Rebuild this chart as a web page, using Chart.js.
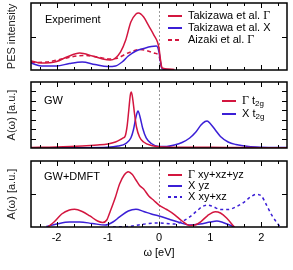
<!DOCTYPE html>
<html>
<head>
<meta charset="utf-8">
<script src="https://cdn.jsdelivr.net/npm/chart.js@4.4.0/dist/chart.umd.min.js"></script>
<style>
  html, body { margin: 0; padding: 0; background: #fff; }
  #wrap { position: relative; width: 293px; height: 270px; }
  .panel { position: absolute; left: 0; width: 293px; }
</style>
</head>
<body>
<div id="wrap">
  <div class="panel" style="top:0;height:74px"><canvas id="c1"></canvas></div>
  <div class="panel" style="top:76px;height:76px"><canvas id="c2"></canvas></div>
  <div class="panel" style="top:152px;height:118px"><canvas id="c3"></canvas></div>
</div>
<script>
// ω [eV] axis
const xTickLabels = [-2, -1, 0, 1, 2]

// Experiment: PES intensity
const takGammaW = [-2.5, -2.3, -2.0, -1.8, -1.55, -1.3, -1.1, -0.95, -0.85, -0.75, -0.65, -0.55, -0.45, -0.4, -0.3, -0.2, -0.1, -0.03, 0.0, 0.03, 0.06, 0.15, 0.3]
const takGammaA = [0.134, 0.104, 0.127, 0.194, 0.254, 0.209, 0.164, 0.149, 0.179, 0.269, 0.448, 0.716, 0.836, 0.851, 0.791, 0.657, 0.522, 0.418, 0.328, 0.149, 0.03, 0.015, 0.007]
const takXW = [-2.5, -2.3, -2.0, -1.75, -1.5, -1.25, -1.0, -0.85, -0.72, -0.6, -0.45, -0.3, -0.15, -0.05, 0.0, 0.03, 0.06, 0.15, 0.3]
const takXA = [0.104, 0.06, 0.06, 0.097, 0.119, 0.082, 0.052, 0.06, 0.119, 0.209, 0.284, 0.321, 0.351, 0.358, 0.269, 0.119, 0.022, 0.007, 0.003]
const aizGammaW = [-2.5, -2.2, -1.9, -1.6, -1.45, -1.2, -0.95, -0.8, -0.65, -0.5, -0.4, -0.25, -0.1, 0.0, 0.03, 0.06, 0.15]
const aizGammaA = [0.112, 0.119, 0.164, 0.209, 0.216, 0.194, 0.164, 0.179, 0.239, 0.284, 0.306, 0.291, 0.254, 0.209, 0.104, 0.022, 0.007]

// GW
const gwGammaW = [-2.5, -2.0, -1.5, -1.2, -1.0, -0.85, -0.75, -0.7, -0.66, -0.62, -0.59, -0.56, -0.54, -0.51, -0.48, -0.44, -0.38, -0.3, -0.15, 0.1, 0.5, 1.0, 1.5, 2.0, 2.5]
const gwGammaA = [0.008, 0.015, 0.03, 0.045, 0.061, 0.091, 0.129, 0.152, 0.182, 0.348, 0.576, 0.803, 0.848, 0.727, 0.53, 0.318, 0.167, 0.091, 0.038, 0.015, 0.011, 0.011, 0.008, 0.005, 0.003]
const gwXW = [-2.5, -1.5, -1.0, -0.8, -0.65, -0.55, -0.5, -0.45, -0.41, -0.37, -0.32, -0.25, -0.15, 0.0, 0.15, 0.3, 0.45, 0.6, 0.72, 0.82, 0.9, 0.94, 1.0, 1.1, 1.2, 1.35, 1.5, 1.75, 2.0, 2.5]
const gwXA = [0.003, 0.005, 0.011, 0.03, 0.068, 0.152, 0.273, 0.47, 0.561, 0.47, 0.303, 0.152, 0.068, 0.023, 0.023, 0.045, 0.083, 0.152, 0.242, 0.348, 0.402, 0.409, 0.371, 0.273, 0.174, 0.091, 0.053, 0.023, 0.012, 0.006]

// GW+DMFT
const dmftGammaW = [-2.17, -2.05, -1.9, -1.75, -1.65, -1.5, -1.35, -1.2, -1.1, -1.02, -0.95, -0.85, -0.77, -0.68, -0.6, -0.52, -0.45, -0.38, -0.3, -0.2, -0.1, 0.0, 0.15, 0.3, 0.45, 0.6, 0.7, 0.82, 0.95, 1.1, 1.2, 1.32, 1.47]
const dmftGammaA = [0, 0.076, 0.197, 0.258, 0.268, 0.235, 0.167, 0.091, 0.068, 0.106, 0.242, 0.455, 0.652, 0.788, 0.838, 0.795, 0.712, 0.629, 0.576, 0.47, 0.402, 0.333, 0.265, 0.189, 0.091, 0.023, 0.03, 0.083, 0.174, 0.232, 0.212, 0.136, 0]
const dmftXyzW = [-2.2, -2.0, -1.75, -1.55, -1.3, -1.05, -0.9, -0.77, -0.6, -0.45, -0.3, -0.15, 0.0, 0.2, 0.4, 0.6, 0.8, 1.0, 1.13, 1.25, 1.38, 1.47]
const dmftXyzA = [0.008, 0.045, 0.076, 0.076, 0.053, 0.03, 0.076, 0.152, 0.242, 0.268, 0.235, 0.197, 0.167, 0.117, 0.068, 0.03, 0.045, 0.076, 0.091, 0.068, 0.03, 0.003]
const dmftXxyW = [-0.9, -0.6, -0.4, -0.2, 0.0, 0.15, 0.3, 0.45, 0.6, 0.75, 0.85, 0.95, 1.05, 1.2, 1.35, 1.5, 1.65, 1.8, 1.9, 2.0, 2.1, 2.2, 2.3, 2.37]
const dmftXxyA = [0, 0.008, 0.03, 0.053, 0.061, 0.053, 0.045, 0.083, 0.152, 0.25, 0.311, 0.333, 0.311, 0.265, 0.265, 0.303, 0.371, 0.462, 0.495, 0.47, 0.333, 0.182, 0.068, 0]

const RED = '#d3163f'
const BLUE = '#3b1fd6'
const SANS = '"Liberation Sans", Arial, sans-serif'
const SERIF = '"Liberation Serif", "Times New Roman", serif'

const toPoints = (xs, ys) => xs.map((x, i) => ({ x, y: ys[i] }))

function drawRich(ctx, parts, x, y) {
  parts.forEach(p => {
    if (p.serif) ctx.font = `12px ${SERIF}`
    else if (p.sub) ctx.font = `8px ${SANS}`
    else ctx.font = `11px ${SANS}`
    ctx.fillText(p.t, x, p.sub ? y + 3 : y)
    x += ctx.measureText(p.t).width
  })
}

// frame, inward ticks, zero line, panel label and legend
const framePlugin = {
  id: 'frame',
  beforeDatasetsDraw(chart) {
    const { ctx, chartArea: a, scales: { x } } = chart
    const x0 = Math.round(x.getPixelForValue(0)) + 0.5
    ctx.save()
    ctx.strokeStyle = '#9a9a9a'
    ctx.lineWidth = 1
    ctx.setLineDash([2, 2])
    ctx.beginPath()
    ctx.moveTo(x0, a.top)
    ctx.lineTo(x0, a.bottom)
    ctx.stroke()
    ctx.restore()
  },
  afterDatasetsDraw(chart, args, opts) {
    const { ctx, chartArea: a, scales: { x, y } } = chart
    ctx.save()
    ctx.strokeStyle = '#000'
    ctx.lineWidth = 1.5
    ctx.strokeRect(a.left, a.top, a.right - a.left, a.bottom - a.top)

    ctx.lineWidth = 1
    ctx.beginPath()
    for (let k = -7; k <= 7; k++) {
      const px = Math.round(x.getPixelForValue(k / 3)) + 0.5
      const len = k % 3 === 0 ? 5 : 3
      ctx.moveTo(px, a.top); ctx.lineTo(px, a.top + len)
      ctx.moveTo(px, a.bottom); ctx.lineTo(px, a.bottom - len)
    }
    opts.yTicks.forEach(v => {
      const py = Math.round(y.getPixelForValue(v)) + 0.5
      ctx.moveTo(a.left, py); ctx.lineTo(a.left + 5, py)
      ctx.moveTo(a.right, py); ctx.lineTo(a.right - 5, py)
    })
    ctx.stroke()

    ctx.fillStyle = '#000'
    ctx.textBaseline = 'middle'
    ctx.font = `11px ${SANS}`
    ctx.fillText(opts.label.text, opts.label.x, opts.label.y)

    const lg = opts.legend
    lg.items.forEach((it, i) => {
      const ly = lg.y + i * lg.step
      ctx.strokeStyle = it.color
      ctx.lineWidth = 2
      ctx.setLineDash(it.dash || [])
      ctx.beginPath()
      ctx.moveTo(lg.x, ly); ctx.lineTo(lg.x + lg.len, ly)
      ctx.stroke()
      ctx.setLineDash([])
      drawRich(ctx, it.parts, lg.x + lg.len + 6, ly)
    })
    ctx.restore()
  }
}

function makeChart(id, datasets, cfg) {
  return new Chart(document.getElementById(id), {
    type: 'line',
    data: { datasets },
    options: {
      responsive: true,
      maintainAspectRatio: false,
      animation: false,
      layout: { padding: cfg.padding },
      elements: {
        point: { radius: 0 },
        line: { borderWidth: 1.5, cubicInterpolationMode: 'monotone' }
      },
      plugins: {
        legend: { display: false },
        tooltip: { enabled: false },
        frame: cfg.frame
      },
      scales: {
        x: {
          type: 'linear',
          min: -2.5,
          max: 2.5,
          display: !!cfg.showX,
          grid: { display: false, drawTicks: false },
          border: { display: false },
          afterBuildTicks: s => { s.ticks = xTickLabels.map(v => ({ value: v })) },
          ticks: {
            autoSkip: false,
            maxRotation: 0,
            padding: 4,
            color: '#000',
            font: { family: SANS, size: 11 },
            callback: v => String(v)
          },
          title: {
            display: true,
            text: 'ω [eV]',
            color: '#000',
            font: { family: SANS, size: 11 },
            padding: { top: 0, bottom: 10 }
          },
          afterFit: s => { if (cfg.showX) s.height = 43 }
        },
        y: {
          min: 0,
          max: 1,
          grid: { display: false, drawTicks: false },
          border: { display: false },
          ticks: { display: false },
          title: {
            display: true,
            text: cfg.yTitle,
            color: '#222',
            font: { family: SANS, size: 11 },
            padding: { top: 5, bottom: 0 }
          },
          afterFit: s => { s.width = 31 }
        }
      }
    },
    plugins: [framePlugin]
  })
}

makeChart('c1', [
  { data: toPoints(takGammaW, takGammaA), borderColor: RED },
  { data: toPoints(takXW, takXA), borderColor: BLUE },
  { data: toPoints(aizGammaW, aizGammaA), borderColor: RED, borderDash: [4, 3] }
], {
  padding: { top: 3, right: 6, bottom: 4, left: 0 },
  yTitle: 'PES intensity',
  frame: {
    yTicks: [0.5],
    label: { text: 'Experiment', x: 45, y: 20 },
    legend: {
      x: 168, y: 16, step: 12, len: 14,
      items: [
        { color: RED, parts: [{ t: 'Takizawa et al. ' }, { t: 'Γ', serif: true }] },
        { color: BLUE, parts: [{ t: 'Takizawa et al. X' }] },
        { color: RED, dash: [4, 3], parts: [{ t: 'Aizaki et al. ' }, { t: 'Γ', serif: true }] }
      ]
    }
  }
})

makeChart('c2', [
  { data: toPoints(gwGammaW, gwGammaA), borderColor: RED },
  { data: toPoints(gwXW, gwXA), borderColor: BLUE }
], {
  padding: { top: 6, right: 6, bottom: 4, left: 0 },
  yTitle: 'A(ω) [a.u.]',
  frame: {
    yTicks: [1 / 7, 2 / 7, 3 / 7, 4 / 7, 5 / 7, 6 / 7],
    label: { text: 'GW', x: 44, y: 25 },
    legend: {
      x: 222, y: 25, step: 13, len: 14,
      items: [
        { color: RED, parts: [{ t: 'Γ', serif: true }, { t: ' t' }, { t: '2g', sub: true }] },
        { color: BLUE, parts: [{ t: 'X t' }, { t: '2g', sub: true }] }
      ]
    }
  }
})

makeChart('c3', [
  { data: toPoints(dmftGammaW, dmftGammaA), borderColor: RED },
  { data: toPoints(dmftXyzW, dmftXyzA), borderColor: BLUE },
  { data: toPoints(dmftXxyW, dmftXxyA), borderColor: BLUE, borderDash: [3, 3] }
], {
  padding: { top: 9, right: 6, bottom: 0, left: 0 },
  showX: true,
  yTitle: 'A(ω) [a.u.]',
  frame: {
    yTicks: [0.5],
    label: { text: 'GW+DMFT', x: 44, y: 25 },
    legend: {
      x: 168, y: 23, step: 11, len: 14,
      items: [
        { color: RED, parts: [{ t: 'Γ', serif: true }, { t: ' xy+xz+yz' }] },
        { color: BLUE, parts: [{ t: 'X yz' }] },
        { color: BLUE, dash: [3, 3], parts: [{ t: 'X xy+xz' }] }
      ]
    }
  }
})
</script>
</body>
</html>
